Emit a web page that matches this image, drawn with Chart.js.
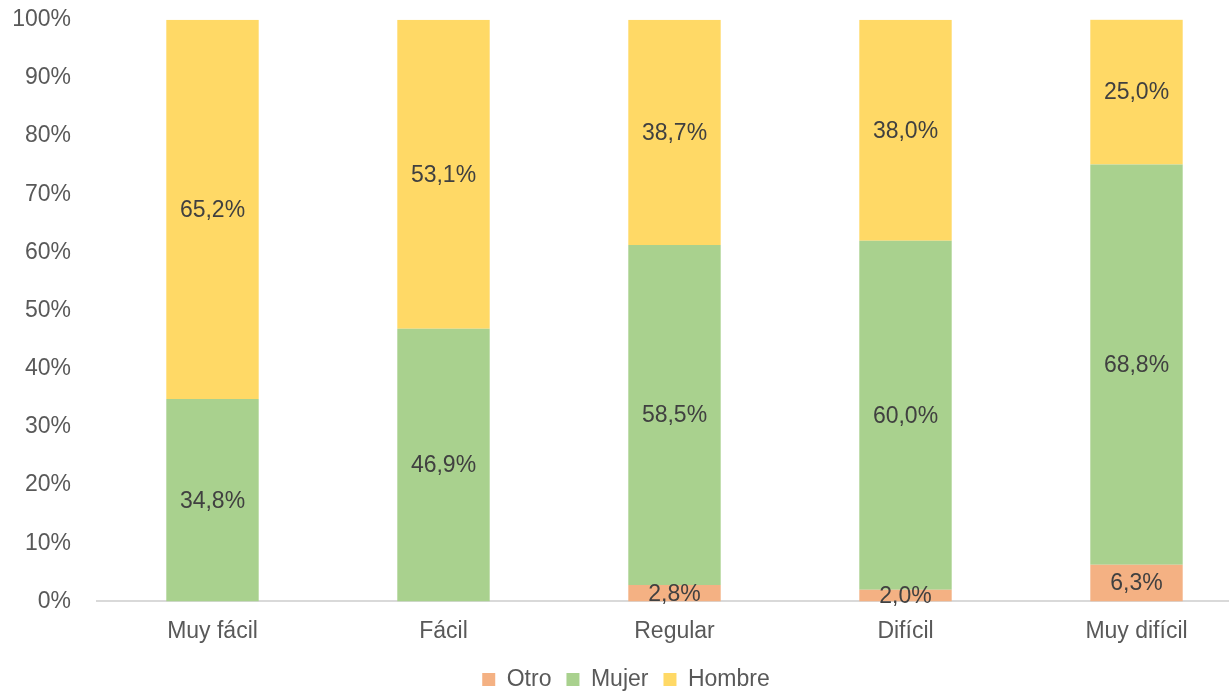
<!DOCTYPE html>
<html>
<head>
<meta charset="utf-8">
<script src="https://cdn.jsdelivr.net/npm/chart.js@4"></script>
<style>
  html, body { margin: 0; padding: 0; background: #fff; overflow: hidden; }
  #wrap { position: relative; top: -12px; width: 1252px; height: 705px; }
</style>
</head>
<body>
<div id="wrap"><canvas id="surveyChart"></canvas></div>
<script>
const categories = ['Muy fácil', 'Fácil', 'Regular', 'Difícil', 'Muy difícil'];
const otro = [0, 0, 2.8, 2.0, 6.3];
const mujer = [34.8, 46.9, 58.5, 60.0, 68.8];
const hombre = [65.2, 53.1, 38.7, 38.0, 25.0];
const yTicks = [0, 10, 20, 30, 40, 50, 60, 70, 80, 90, 100];

const fontFamily = '"Liberation Sans", Arial, sans-serif';

// labels in the middle of each segment, like excel "center"
const centerLabels = {
  id: 'centerLabels',
  afterDatasetsDraw(chart) {
    const c = chart.ctx;
    c.save();
    c.font = '23px ' + fontFamily;
    c.fillStyle = '#404040';
    c.textAlign = 'center';
    c.textBaseline = 'middle';
    chart.data.datasets.forEach((ds, i) => {
      const meta = chart.getDatasetMeta(i);
      meta.data.forEach((bar, j) => {
        const v = ds.data[j];
        if (!v) return;
        const y = (bar.y + bar.base) / 2;
        c.fillText(v.toFixed(1).replace('.', ',') + '%', bar.x, y + 1);
      });
    });
    c.restore();
  }
};

const ctx = document.getElementById('surveyChart');

new Chart(ctx, {
  type: 'bar',
  data: {
    labels: categories,
    datasets: [{
      label: 'Otro',
      data: otro,
      backgroundColor: '#F4B183'
    }, {
      label: 'Mujer',
      data: mujer,
      backgroundColor: '#A9D18E'
    }, {
      label: 'Hombre',
      data: hombre,
      backgroundColor: '#FFD966'
    }]
  },
  options: {
    responsive: true,
    maintainAspectRatio: false,
    animation: false,
    categoryPercentage: 1,
    barPercentage: 0.4,
    layout: { padding: { top: 0, left: 0, right: 0, bottom: -8 } },
    plugins: {
      tooltip: { enabled: false },
      legend: {
        position: 'bottom',
        labels: {
          boxWidth: 13,
          boxHeight: 13,
          padding: 15,
          color: '#595959',
          font: { family: fontFamily, size: 23 }
        }
      }
    },
    scales: {
      x: {
        stacked: true,
        grid: { display: false },
        border: { display: true, color: '#D9D9D9', width: 2 },
        ticks: {
          color: '#595959',
          padding: 8,
          font: { family: fontFamily, size: 23 }
        }
      },
      y: {
        stacked: true,
        min: 0,
        max: 100,
        grid: { display: false },
        border: { display: false },
        afterFit(axis) {
          axis.width = 97;
        },
        afterBuildTicks(axis) {
          axis.ticks = yTicks.map(v => ({ value: v }));
        },
        ticks: {
          color: '#595959',
          padding: 18,
          font: { family: fontFamily, size: 23 },
          callback: v => v + '%'
        }
      }
    }
  },
  plugins: [centerLabels]
});
</script>
</body>
</html>
